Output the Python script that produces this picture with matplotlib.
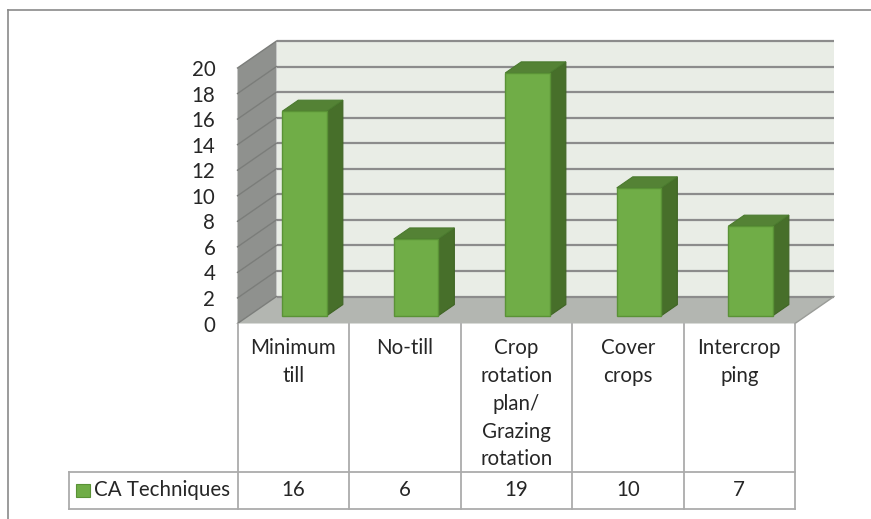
import matplotlib.pyplot as plt
from matplotlib.patches import Polygon
from matplotlib.lines import Line2D

categories = ["Minimum\ntill", "No-till", "Crop\nrotation\nplan/\nGrazing\nrotation",
              "Cover\ncrops", "Intercrop\nping"]
values = [16, 6, 19, 10, 7]
series_name = "CA Techniques"
yticks = list(range(0, 21, 2))

plt.rcParams["font.family"] = ["Lato", "DejaVu Sans"]

W, H = 871, 519
fig = plt.figure(figsize=(W / 100, H / 100), dpi=100)

# front plane of the 3d box in pixels
left_px, right_px, zero_px, top_px = 237.5, 795, 323.5, 68
ax = fig.add_axes([left_px / W, 1 - zero_px / H, (right_px - left_px) / W, (zero_px - top_px) / H])
ax.set_xlim(-0.5, len(values) - 0.5)
ax.set_ylim(0, 20)
for s in ax.spines.values():
    s.set_visible(False)
ax.set_xticks([])
ax.set_yticks(yticks)
ax.tick_params(axis="y", length=0, pad=16, labelsize=14.8, labelcolor="#262626")

xpx = (right_px - left_px) / len(values)
ypx = (zero_px - top_px) / 20
DX, DY = 39 / xpx, 27 / ypx
x0, x1 = -0.5, len(values) - 0.5

# walls and floor
ax.add_patch(Polygon([(x0, 0), (x0 + DX, DY), (x0 + DX, 20 + DY), (x0, 20)],
                     closed=True, fc="#8f918e", ec="none", clip_on=False, zorder=1))
ax.add_patch(Polygon([(x0 + DX, DY), (x1 + DX, DY), (x1 + DX, 20 + DY), (x0 + DX, 20 + DY)],
                     closed=True, fc="#e9ede6", ec="none", clip_on=False, zorder=1))
ax.add_patch(Polygon([(x0, 0), (x1, 0), (x1 + DX, DY), (x0 + DX, DY)],
                     closed=True, fc="#b3b6b1", ec="none", clip_on=False, zorder=1))
for v in yticks:
    ax.plot([x0 + DX, x1 + DX], [v + DY, v + DY], color="#8c8c8c", lw=1.6,
            clip_on=False, zorder=2, solid_capstyle="butt")
    ax.plot([x0, x0 + DX], [v, v + DY], color="#7b7d7a", lw=1.0, clip_on=False, zorder=2)
ax.plot([x1, x1 + DX], [0, DY], color="#9a9c98", lw=1.0, clip_on=False, zorder=2)

# 3d bars
w, f0, d = 0.40, 0.29, 0.41
for i, v in enumerate(values):
    bx = i + f0 * DX - w / 2
    by = f0 * DY
    top = v + by
    ddx, ddy = d * DX, d * DY
    ax.add_patch(Polygon([(bx + w, by), (bx + w + ddx, by + ddy), (bx + w + ddx, top + ddy), (bx + w, top)],
                         closed=True, fc="#476f2a", ec="#3f6424", lw=0.8, clip_on=False, zorder=3))
    ax.add_patch(Polygon([(bx, top), (bx + w, top), (bx + w + ddx, top + ddy), (bx + ddx, top + ddy)],
                         closed=True, fc="#548235", ec="#4a7a2e", lw=0.8, clip_on=False, zorder=3))
    ax.add_patch(Polygon([(bx, by), (bx + w, by), (bx + w, top), (bx, top)],
                         closed=True, fc="#70ad47", ec="#5a9236", lw=1.0, clip_on=False, zorder=4))

# data table under the chart
def px_x(p):
    return (p - left_px) / xpx - 0.5

def px_y(p):
    return (zero_px - p) / ypx

tc = "#ababab"
y_mid, y_bot = px_y(472), px_y(509)
leg_left = px_x(69)
for k in range(len(values) + 1):
    ax.plot([x0 + k, x0 + k], [0, y_bot], color=tc, lw=1.3, clip_on=False, zorder=2)
ax.plot([leg_left, x1], [y_mid, y_mid], color=tc, lw=1.3, clip_on=False)
ax.plot([leg_left, x1], [y_bot, y_bot], color=tc, lw=1.3, clip_on=False)
ax.plot([leg_left, leg_left], [y_mid, y_bot], color=tc, lw=1.3, clip_on=False)

for i, (c, v) in enumerate(zip(categories, values)):
    ax.text(i, px_y(338), c, ha="center", va="top", fontsize=14.8, color="#262626",
            linespacing=1.49, clip_on=False)
    ax.text(i, (y_mid + y_bot) / 2, str(v), ha="center", va="center", fontsize=14.8,
            color="#262626", clip_on=False)

ax.add_patch(Polygon([(px_x(76.5), px_y(484)), (px_x(90), px_y(484)), (px_x(90), px_y(497)), (px_x(76.5), px_y(497))],
                     closed=True, fc="#70ad47", ec="#5a9236", lw=0.8, clip_on=False))
ax.text(px_x(94), (y_mid + y_bot) / 2, series_name, ha="left", va="center", fontsize=14.8,
        color="#262626", clip_on=False)

# outer chart border (cropped)
fig.add_artist(Line2D([7.5 / W, 1], [1 - 9.5 / H, 1 - 9.5 / H], color="#8a8a8a", lw=1.2))
fig.add_artist(Line2D([7.5 / W, 7.5 / W], [0, 1 - 9.5 / H], color="#8a8a8a", lw=1.2))

fig.savefig("out.png", dpi=100)
